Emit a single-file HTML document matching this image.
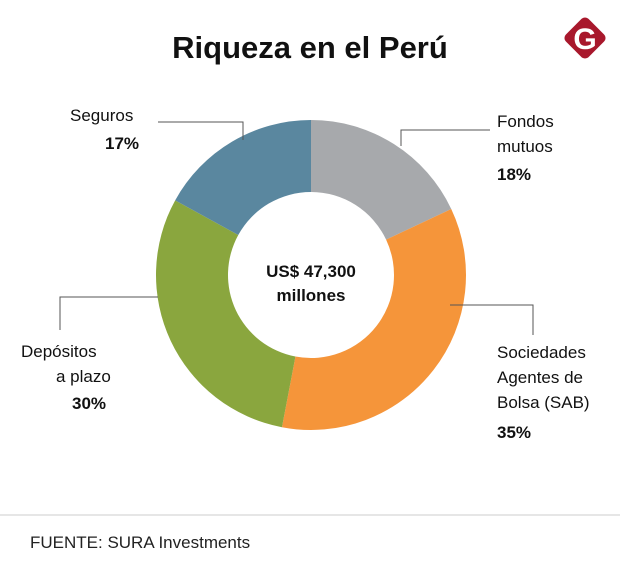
<!DOCTYPE html>
<html><head><meta charset="utf-8"><style>
body{margin:0;background:#fff;font-family:"Liberation Sans",sans-serif}
#w{position:relative;width:620px;height:583px;overflow:hidden}
</style></head><body>
<div id="w">
<svg width="620" height="583" id="svg">
<text x="310" y="58" text-anchor="middle" font-size="31" font-weight="bold" fill="#111">Riqueza en el Perú</text>
<g>
<rect x="569" y="22" width="32" height="32" rx="5" transform="rotate(45 585 38)" fill="#a8182c"/>
<text x="585" y="49" text-anchor="middle" font-size="30" font-weight="bold" fill="#fff">G</text>
</g>
<g id="slices"></g>
<text x="311" y="277" text-anchor="middle" font-size="17" font-weight="bold" fill="#111">US$ 47,300</text>
<text x="311" y="301" text-anchor="middle" font-size="17" font-weight="bold" fill="#111">millones</text>
<g stroke="#555" stroke-width="1" fill="none">
<polyline points="158,122 243,122 243,140"/>
<polyline points="490,130 401,130 401,146"/>
<polyline points="60,330 60,297 158,297"/>
<polyline points="533,335 533,305 450,305"/>
</g>
<g font-size="17" fill="#111">
<text x="70" y="121">Seguros</text>
<text x="105" y="149" font-weight="bold">17%</text>
<text x="497" y="127">Fondos</text>
<text x="497" y="152">mutuos</text>
<text x="497" y="180" font-weight="bold">18%</text>
<text x="21" y="357">Depósitos</text>
<text x="56" y="382">a plazo</text>
<text x="72" y="409" font-weight="bold">30%</text>
<text x="497" y="358">Sociedades</text>
<text x="497" y="383">Agentes de</text>
<text x="497" y="408">Bolsa (SAB)</text>
<text x="497" y="438" font-weight="bold">35%</text>
</g>
<line x1="0" y1="515" x2="620" y2="515" stroke="#ccc"/>
<text x="30" y="548" font-size="17" fill="#222">FUENTE: SURA Investments</text>
</svg>
</div>
<script>
const categories=["Fondos mutuos","Sociedades Agentes de Bolsa (SAB)","Depósitos a plazo","Seguros"];
const values=[18,35,30,17];
const colors=["#a7a9ac","#f5953a","#8aa63e","#5a879f"];
const cx=311,cy=275,R=155,r=83;
const total=values.reduce((a,b)=>a+b,0);
const g=document.getElementById('slices');
let a0=0;
function pt(a,rad){return [cx+rad*Math.sin(a),cy-rad*Math.cos(a)];}
values.forEach((v,i)=>{
  const a1=a0+v/total*2*Math.PI;
  const large=(a1-a0)>Math.PI?1:0;
  const [x0,y0]=pt(a0,R),[x1,y1]=pt(a1,R),[x2,y2]=pt(a1,r),[x3,y3]=pt(a0,r);
  const p=document.createElementNS('http://www.w3.org/2000/svg','path');
  p.setAttribute('d',`M${x0},${y0}A${R},${R} 0 ${large} 1 ${x1},${y1}L${x2},${y2}A${r},${r} 0 ${large} 0 ${x3},${y3}Z`);
  p.setAttribute('fill',colors[i]);
  
  
  g.appendChild(p);
  a0=a1;
});
</script>
</body></html>
